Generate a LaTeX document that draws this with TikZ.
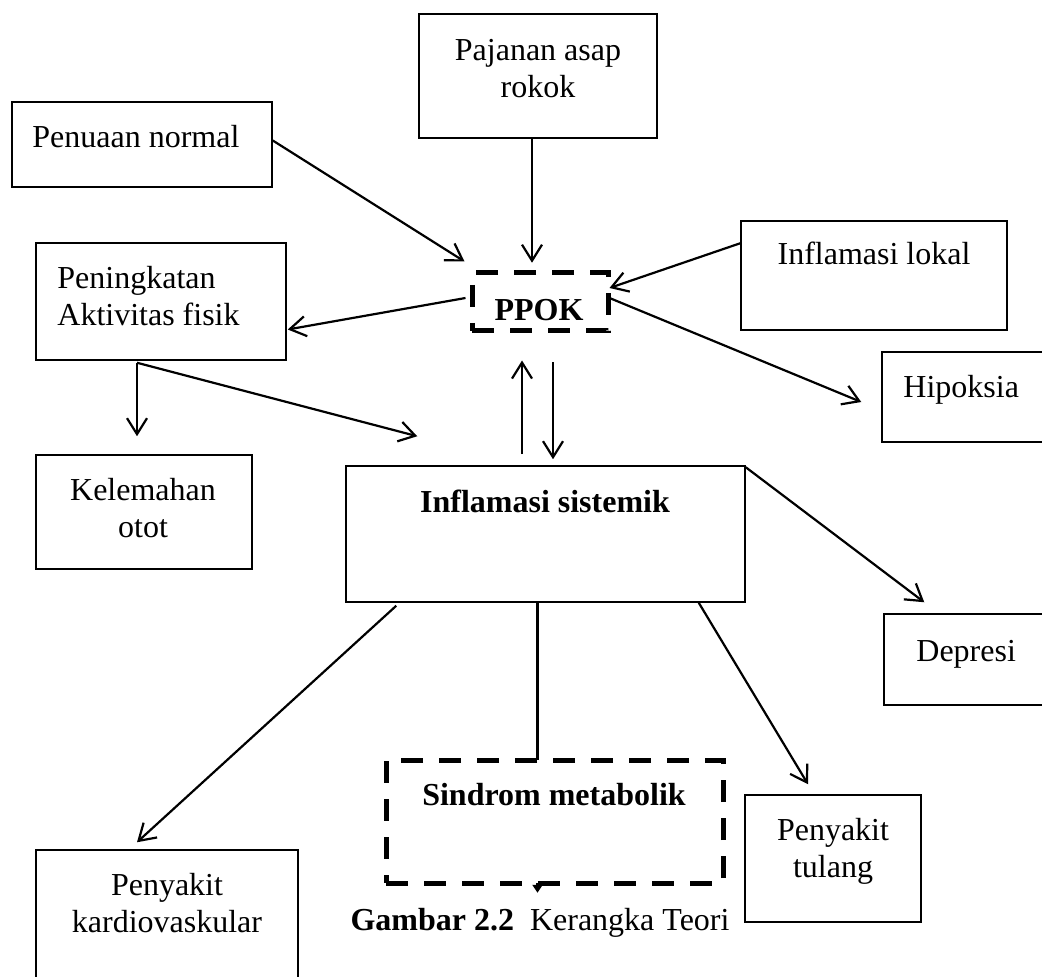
\documentclass[tikz,border=0pt]{standalone}
\usepackage{fontspec}
\setmainfont{Liberation Serif}
\usetikzlibrary{arrows.meta,fit}
\tikzset{
  kotak/.style={draw, line width=.75pt, inner sep=0pt},
  putus/.style={draw, line width=2.5pt, dash pattern=on 11pt off 8pt, inner sep=0pt},
  teks/.style={inner sep=0pt, font=\fontsize{16}{18.5}\selectfont, align=center},
  tebal/.style={teks, font=\fontsize{16}{18.5}\selectfont\bfseries},
  panah/.style={->, line width=1.1pt}
}

\begin{document}
\begin{tikzpicture}[>={Straight Barb[length=8pt,width=10pt]}, x=.5pt, y=-.5pt]
    \useasboundingbox (0,0) rectangle (1042,977);
% kotak
    \node[kotak, fit={(12,102) (272,187)}] (penuaan) {};
    \node[kotak, fit={(419,14) (657,138)}] (pajanan) {};
    \node[kotak, fit={(741,221) (1007,330)}] (lokal) {};
    \node[kotak, fit={(36,243) (286,360)}] (aktivitas) {};
    \node[kotak, fit={(882,352) (1060,442)}] (hipoksia) {};
    \node[kotak, fit={(36,455) (252,569)}] (otot) {};
    \node[kotak, fit={(346,466) (745,602)}] (sistemik) {};
    \node[kotak, fit={(884,614) (1060,705)}] (depresi) {};
    \node[kotak, fit={(745,795) (921,922)}] (tulang) {};
    \node[kotak, fit={(36,850) (298,995)}] (kardio) {};
    \node[putus, fit={(472,273) (608,331)}] (ppok) {};
% teks (base = garis dasar baris terakhir)
    \node[teks, anchor=base west] at (32,148) {Penuaan normal};
    \node[teks, anchor=base] at (538,98) {Pajanan asap\\rokok};
    \node[teks, anchor=base] at (874,265) {Inflamasi lokal};
    \node[teks, anchor=base west, align=left] at (57,326) {Peningkatan\\Aktivitas fisik};
    \node[teks, anchor=base west] at (903,398) {Hipoksia};
    \node[teks, anchor=base] at (143,538) {Kelemahan\\otot};
    \node[tebal, anchor=base] at (545,512) {Inflamasi sistemik};
    \node[teks, anchor=base west] at (916,661) {Depresi};
    \node[teks, anchor=base] at (833,877) {Penyakit\\tulang};
    \node[teks, anchor=base] at (167,932) {Penyakit\\kardiovaskular};
    \node[tebal, anchor=base] at (539,321) {PPOK};
% panah
    \draw[panah] ([shift={(0,-4)}]penuaan.east) -- ([shift={(-5,-9)}]ppok.north west);
    \draw[panah] ([shift={(-6,0)}]pajanan.south) -- ++(0,124);
    \draw[panah] ([shift={(0,23)}]lokal.north west) -- ([shift={(-1,-14)}]ppok.east);
    \draw[panah] ([shift={(-4,-4)}]ppok.west) -- ([shift={(1,28)}]aktivitas.east);
    \draw[panah] ([shift={(-1,-4)}]ppok.east) -- ([shift={(-20,5)}]hipoksia.west);
    \coordinate (cabang) at ([shift={(-24,2)}]aktivitas.south);
    \draw[panah] (cabang) -- ([shift={(-7,-18)}]otot.north);
    \draw[panah] (cabang) -- ([shift={(72,-29)}]sistemik.north west);
    \draw[panah] ([shift={(-23.5,-11)}]sistemik.north) -- ([shift={(-18,27)}]ppok.south);
    \draw[panah] ([shift={(13,29)}]ppok.south) -- ([shift={(7.5,-6)}]sistemik.north);
    \draw[panah] ([shift={(0,2)}]sistemik.north east) -- ([shift={(41,-11)}]depresi.north west);
    \draw[panah] ([shift={(51,3)}]sistemik.south west) -- ([shift={(-30,-7)}]kardio.north);
    \draw[panah] ([shift={(-47,0)}]sistemik.south east) -- ([shift={(-25,-10)}]tulang.north);
    \draw[line width=1.1pt, -{Triangle[length=4pt,width=5pt]}] ([shift={(-8,0)}]sistemik.south) -- ++(0,290);
% sindrom menutup garis
    \node[putus, fill=white, fit={(386,760) (723,883)}] (sindrom) {};
    \node[tebal, anchor=base] at (554,805) {Sindrom metabolik};
    \node[teks, anchor=base] (judul) at (540,930) {\textbf{Gambar 2.2}\ \ Kerangka Teori};
\end{tikzpicture}
\end{document}
